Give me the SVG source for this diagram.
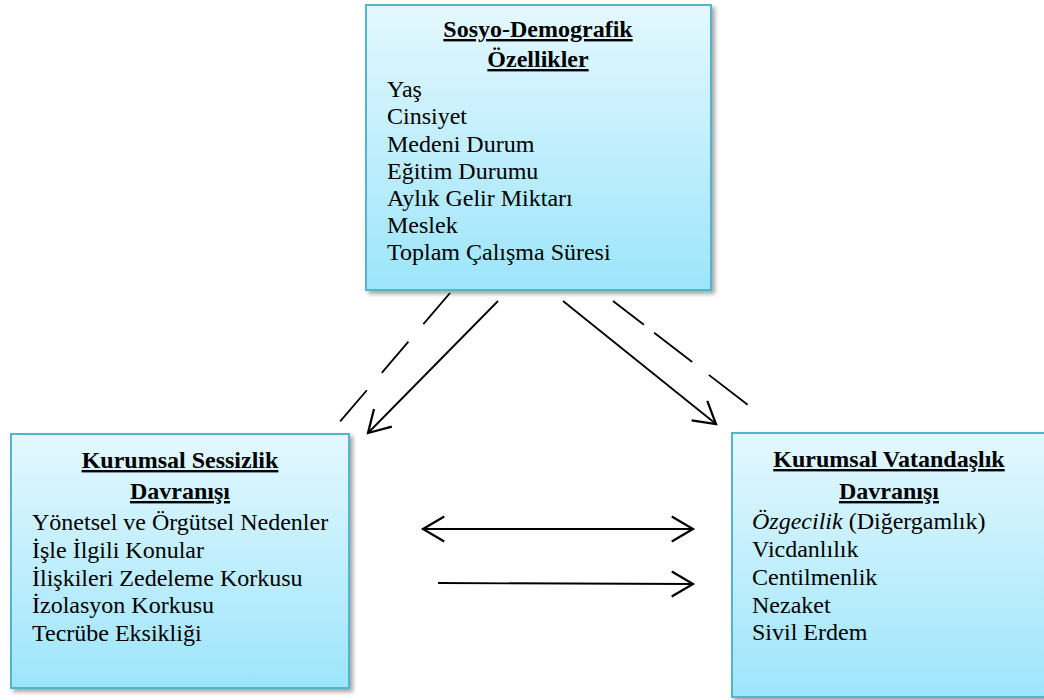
<svg xmlns="http://www.w3.org/2000/svg" width="1044" height="700" viewBox="0 0 1044 700">
<defs>
<linearGradient id="boxfill" x1="0" y1="0" x2="0" y2="1">
<stop offset="0" stop-color="#e4f8fe"/>
<stop offset="1" stop-color="#9de5fb"/>
</linearGradient>
<filter id="shadow" x="-10%" y="-10%" width="125%" height="125%">
<feDropShadow dx="3" dy="3" stdDeviation="2" flood-color="#000" flood-opacity="0.35"/>
</filter>
<marker id="arrow" markerUnits="userSpaceOnUse" markerWidth="30" markerHeight="30" viewBox="-20 -12 24 24" refX="0" refY="0" orient="auto-start-reverse">
<path d="M -17 -10 L 0 0 L -17 10" fill="none" stroke="#000" stroke-width="1.8"/>
</marker>
</defs>
<style>
.box { fill: url(#boxfill); stroke: #55b4cc; stroke-width: 2; filter: url(#shadow); }
.title { font-family: "Liberation Serif", "Times New Roman", serif; font-size: 24px; font-weight: bold; text-anchor: middle; text-decoration: underline; fill: #000; }
.item { font-family: "Liberation Serif", "Times New Roman", serif; font-size: 24px; fill: #000; }
.conn { stroke: #000; stroke-width: 1.8; fill: none; }
</style>
<rect width="1044" height="700" fill="#fff"/>
<g id="node-sosyo">
<rect class="box" x="366" y="5" width="345" height="285"/>
<text class="title" x="538" y="37">Sosyo-Demografik</text>
<text class="title" x="538" y="67">Özellikler</text>
<text class="item" x="387" y="97">Yaş</text>
<text class="item" x="387" y="124">Cinsiyet</text>
<text class="item" x="387" y="152">Medeni Durum</text>
<text class="item" x="387" y="179">Eğitim Durumu</text>
<text class="item" x="387" y="206">Aylık Gelir Miktarı</text>
<text class="item" x="387" y="233">Meslek</text>
<text class="item" x="387" y="260">Toplam Çalışma Süresi</text>
</g>
<g id="node-sessizlik">
<rect class="box" x="11" y="434" width="338" height="254"/>
<text class="title" x="180" y="468">Kurumsal Sessizlik</text>
<text class="title" x="180" y="499">Davranışı</text>
<text class="item" x="32" y="530">Yönetsel ve Örgütsel Nedenler</text>
<text class="item" x="32" y="558">İşle İlgili Konular</text>
<text class="item" x="32" y="586">İlişkileri Zedeleme Korkusu</text>
<text class="item" x="32" y="613">İzolasyon Korkusu</text>
<text class="item" x="32" y="641">Tecrübe Eksikliği</text>
</g>
<g id="node-vatandaslik">
<rect class="box" x="732" y="433" width="314" height="264"/>
<text class="title" x="889" y="467">Kurumsal Vatandaşlık</text>
<text class="title" x="889" y="499">Davranışı</text>
<text class="item" x="752" y="529"><tspan font-style="italic">Özgecilik</tspan> (Diğergamlık)</text>
<text class="item" x="752" y="557">Vicdanlılık</text>
<text class="item" x="752" y="585">Centilmenlik</text>
<text class="item" x="752" y="613">Nezaket</text>
<text class="item" x="752" y="640">Sivil Erdem</text>
</g>
<g id="connectors">
<line class="conn" x1="450" y1="293" x2="338" y2="424" stroke-dasharray="41 23"/>
<line class="conn" x1="498" y1="301" x2="368" y2="433" marker-end="url(#arrow)"/>
<line class="conn" x1="563" y1="301" x2="716" y2="424" marker-end="url(#arrow)"/>
<line class="conn" x1="613" y1="301" x2="748" y2="405" stroke-dasharray="39 13 48 21 49"/>
<line class="conn" x1="423" y1="529" x2="693" y2="529" marker-start="url(#arrow)" marker-end="url(#arrow)"/>
<line class="conn" x1="438" y1="583" x2="693" y2="584" marker-end="url(#arrow)"/>
</g>
</svg>
